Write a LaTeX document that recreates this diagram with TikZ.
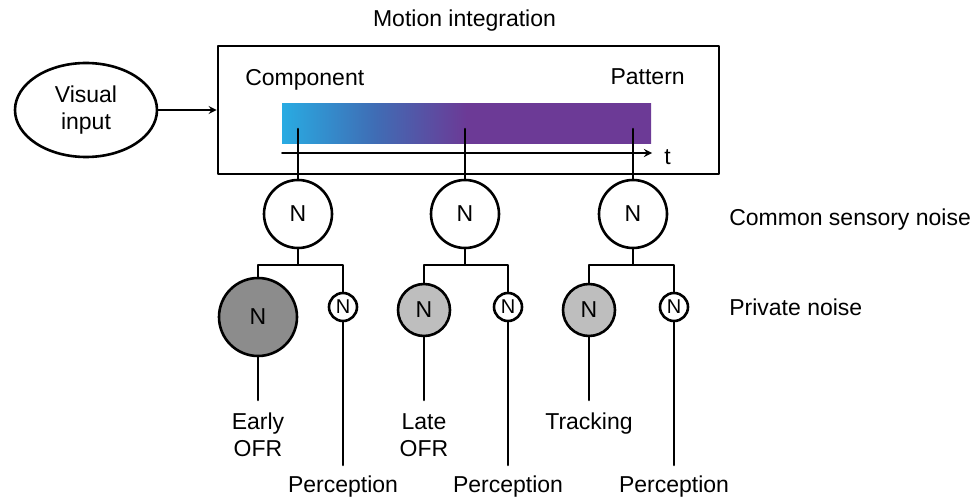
\documentclass[tikz,border=0pt]{standalone}
\usepackage{fontspec}
\setmainfont{Liberation Sans}
\usetikzlibrary{shapes.geometric}
\definecolor{barcyan}{HTML}{29ABE2}
\definecolor{barblue}{HTML}{3F6DB5}
\definecolor{barpurple}{HTML}{6C3A96}
\definecolor{noisedark}{HTML}{8C8C8C}
\definecolor{noiselight}{HTML}{BEBEBE}
% the path box covers 25bp to 75bp of the shading
\pgfdeclarehorizontalshading{motionbar}{100bp}{color(0bp)=(barcyan); color(25bp)=(barcyan);
	color(37.5bp)=(barblue); color(50bp)=(barpurple); color(100bp)=(barpurple)}

\begin{document}
\begin{tikzpicture}[x=0.5pt,y=-0.5pt,>=stealth, line width=1.3pt, line join=round, line cap=round,
	font=\fontsize{11.5}{13.5}\selectfont,
	noise/.style={circle,draw,fill=white,inner sep=0pt},
	smallnoise/.style={noise,minimum size=14pt,font=\fontsize{10}{10}\selectfont},
	txt/.style={inner sep=0pt}]
	\useasboundingbox (0,0) rectangle (973,497);
	% colour bar from component to pattern motion
	\shade[shading=motionbar] (282,104) rectangle (651,144);
	\node[draw,minimum width=250.5pt,minimum height=64pt] (mi) at (468.5,110) {};
	\node[txt,anchor=base] (title) at (464.5,27) {Motion integration};
	\node[txt,anchor=base west] (comp) at (244,86) {Component};
	\node[txt,anchor=base east] (patt) at (686,85) {Pattern};
	\coordinate (t0) at (282,153); \coordinate (t1) at (652,153);
	\draw[->,line width=0.8pt] (t0)--(t1);
	\node[txt,anchor=base west] (tl) at (663,165) {t};
	\node[ellipse,draw,minimum width=71pt,minimum height=47pt,inner sep=0pt,align=center] (vis) at (86,110) {Visual\\input};
	\draw[->,line width=0.8pt] (vis)--(mi);
	% common sensory noise, then the perception branch
	\foreach \i/\x/\xr in {1/298/343,2/465/508,3/633/674}
	{\coordinate (k\i) at (\x,129); \coordinate (j\i) at (\x,265);
		\node[noise,minimum size=34pt] (c\i) at (\x,214) {N};
		\node[smallnoise] (s\i) at (\xr,307) {N};
		\node[txt,anchor=north] (per\i) at (\xr,475) {Perception};
		\draw (k\i)--(c\i);
		\draw (c\i)--(j\i) -| (s\i);
		\draw[shorten >=5pt] (s\i)--(per\i);}
	% private noise of the eye movements
	\node[noise,fill=noisedark,minimum size=39pt] (p1) at (258,317) {N};
	\node[noise,fill=noiselight,minimum size=26pt] (p2) at (424,310) {N};
	\node[noise,fill=noiselight,minimum size=26pt] (p3) at (589,310) {N};
	\node[txt,anchor=north,align=center] (o1) at (258,412) {Early\\OFR};
	\node[txt,anchor=north,align=center] (o2) at (424,412) {Late\\OFR};
	\node[txt,anchor=north] (o3) at (589,412) {Tracking};
	\foreach \i in {1,2,3}
	{\draw (p\i) |- (j\i);
		\draw[shorten >=6pt] (p\i)--(o\i);}
	\node[txt,anchor=base west] (cn) at (728,226) {Common sensory noise};
	\node[txt,anchor=base west] (pn) at (728,315) {Private noise};
\end{tikzpicture}
\end{document}
